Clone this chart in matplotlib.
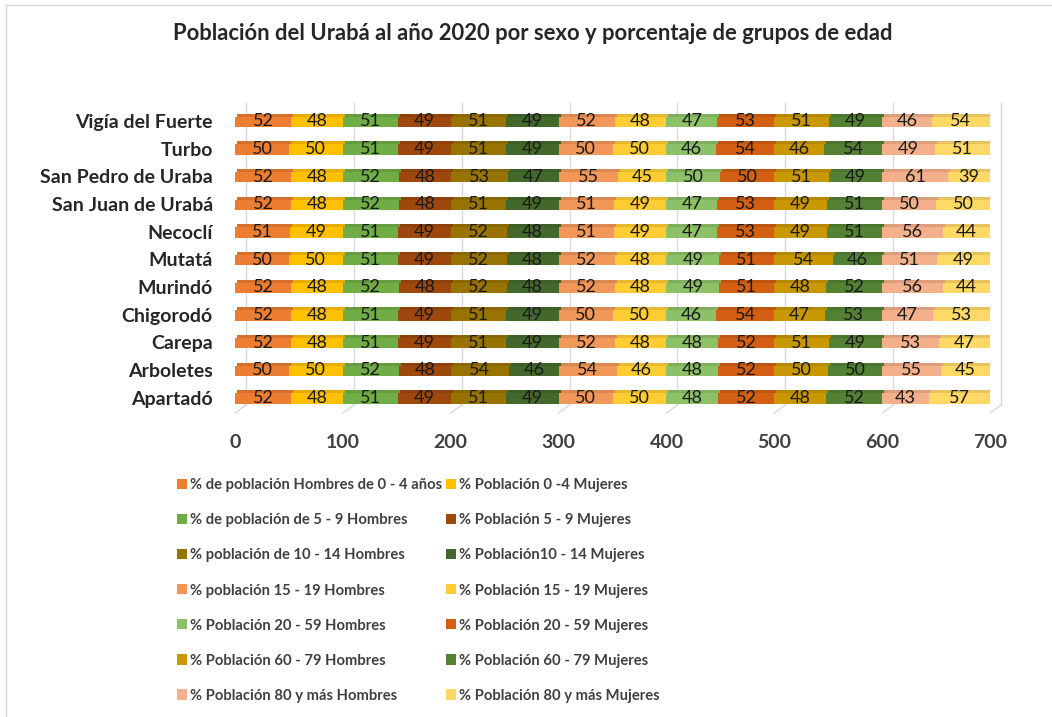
import matplotlib
matplotlib.use("Agg")
import matplotlib.pyplot as plt
import numpy as np
from matplotlib.patches import Patch, ConnectionPatch
from matplotlib.lines import Line2D
from matplotlib.transforms import offset_copy
from matplotlib.colors import to_rgb

plt.rcParams['font.family'] = ['Lato', 'DejaVu Sans']

# Municipalities, bottom row first
municipios = ["Apartadó", "Arboletes", "Carepa", "Chigorodó", "Murindó", "Mutatá",
              "Necoclí", "San Juan de Urabá", "San Pedro de Uraba", "Turbo",
              "Vigía del Fuerte"]

series_names = [
    "% de población Hombres de 0 - 4 años",
    "% Población 0 -4 Mujeres",
    "% de población de 5 - 9 Hombres",
    "% Población 5 - 9 Mujeres",
    "% población de 10 - 14 Hombres",
    "% Población10 - 14 Mujeres",
    "% población 15 - 19 Hombres",
    "% Población 15 - 19 Mujeres",
    "% Población 20 - 59 Hombres",
    "% Población 20 - 59 Mujeres",
    "% Población 60 - 79 Hombres",
    "% Población 60 - 79 Mujeres",
    "% Población 80 y más Hombres",
    "% Población 80 y más Mujeres",
]

# One list per series, values in the order of `municipios`
h_0_4   = [52, 50, 52, 52, 52, 50, 51, 52, 52, 50, 52]
m_0_4   = [48, 50, 48, 48, 48, 50, 49, 48, 48, 50, 48]
h_5_9   = [51, 52, 51, 51, 52, 51, 51, 52, 52, 51, 51]
m_5_9   = [49, 48, 49, 49, 48, 49, 49, 48, 48, 49, 49]
h_10_14 = [51, 54, 51, 51, 52, 52, 52, 51, 53, 51, 51]
m_10_14 = [49, 46, 49, 49, 48, 48, 48, 49, 47, 49, 49]
h_15_19 = [50, 54, 52, 50, 52, 52, 51, 51, 55, 50, 52]
m_15_19 = [50, 46, 48, 50, 48, 48, 49, 49, 45, 50, 48]
h_20_59 = [48, 48, 48, 46, 49, 49, 47, 47, 50, 46, 47]
m_20_59 = [52, 52, 52, 54, 51, 51, 53, 53, 50, 54, 53]
h_60_79 = [48, 50, 51, 47, 48, 54, 49, 49, 51, 46, 51]
m_60_79 = [52, 50, 49, 53, 52, 46, 51, 51, 49, 54, 49]
h_80    = [43, 55, 53, 47, 56, 51, 56, 50, 61, 49, 46]
m_80    = [57, 45, 47, 53, 44, 49, 44, 50, 39, 51, 54]

x_ticks = [0, 100, 200, 300, 400, 500, 600, 700]

series = [h_0_4, m_0_4, h_5_9, m_5_9, h_10_14, m_10_14, h_15_19, m_15_19,
          h_20_59, m_20_59, h_60_79, m_60_79, h_80, m_80]

colors = ['#ED7D31', '#FFC000', '#70AD47', '#9E480E', '#997300', '#43682B',
          '#F1975A', '#FFCD33', '#8CC168', '#D35F13', '#C99700', '#548235',
          '#F4B08A', '#FFD966']


def shade(c, f):
    r, g, b = to_rgb(c)
    return (r * f, g * f, b * f)


W, H = 1052, 717
fig = plt.figure(figsize=(W / 100, H / 100), dpi=100)
ax = fig.add_axes([235 / W, 1 - 413 / H, (990 - 235) / W, (413 - 103) / H])
ax.set_xlim(0, 700)
ax.set_ylim(-0.55, len(municipios) - 1 + 0.65)
ax.set_frame_on(False)

y = np.arange(len(municipios))
front_h = 0.37
front_c = y - 0.03
top_h = 0.11
top_c = front_c + front_h / 2 + top_h / 2

top_tr = offset_copy(ax.transData, fig=fig, x=2, y=0, units='dots')

cum = np.zeros(len(municipios))
for vals, col in zip(series, colors):
    vals = np.array(vals, dtype=float)
    ax.barh(front_c, vals, left=cum, height=front_h, color=col, zorder=3,
            linewidth=0)
    ax.barh(top_c, vals, left=cum, height=top_h, color=shade(col, 0.9),
            zorder=3, linewidth=0, transform=top_tr)
    for yi, (l, v) in enumerate(zip(cum, vals)):
        ax.text(l + v / 2, front_c[yi] + 0.02, f"{int(v)}", ha='center',
                va='center', fontsize=13, color='#1a1a1a', zorder=5)
    cum += vals

# right end face of each bar
ax.barh(front_c + top_h / 2, 2.6, left=cum, height=front_h + top_h * 0.6,
        color=shade(colors[-1], 0.72), zorder=3, linewidth=0)

# back wall gridlines with a short floor segment
dx, dy = 11, 8
xax = ax.get_xaxis_transform()
wall = offset_copy(xax, fig=fig, x=dx, y=0, units='dots')
floor = dy / (413 - 103)
for v in x_ticks:
    ax.plot([v, v], [floor, 1.0], transform=wall, color='#D9D9D9', lw=1.0,
            zorder=1, clip_on=False)
    cp = ConnectionPatch(xyA=(v, 0), coordsA=xax, xyB=(v, floor), coordsB=wall,
                         color='#D9D9D9', lw=1.0, zorder=1)
    cp.set_clip_on(False)
    ax.add_artist(cp)

ax.set_xticks(x_ticks)
ax.set_xticklabels([str(t) for t in x_ticks], fontsize=14, fontweight='bold',
                   color='#404040')
ax.set_yticks(y)
ax.set_yticklabels(municipios, fontsize=14, fontweight='bold', color='#262626')
ax.tick_params(axis='x', length=0, pad=15)
ax.tick_params(axis='y', length=0, pad=16)

fig.text(533 / W, 1 - 33 / H,
         "Población del Urabá al año 2020 por sexo y porcentaje de grupos de edad",
         ha='center', va='center', fontsize=15.8, fontweight='bold',
         color='#262626')

handles = [Patch(facecolor=c, edgecolor='none') for c in colors]
leg_kw = dict(frameon=False, loc='upper left', borderpad=0,
              handlelength=0.68, handleheight=0.68, handletextpad=0.2,
              labelspacing=1.43, labelcolor='#404040',
              prop={'weight': 'bold', 'size': 10.6})
col1 = fig.legend([handles[i] for i in range(0, 14, 2)],
                  [series_names[i] for i in range(0, 14, 2)],
                  bbox_to_anchor=(170 / W, 1 - 471 / H), **leg_kw)
col2 = fig.legend([handles[i] for i in range(1, 14, 2)],
                  [series_names[i] for i in range(1, 14, 2)],
                  bbox_to_anchor=(439 / W, 1 - 471 / H), **leg_kw)

# chart area border
fig.add_artist(Line2D([6 / W, 6 / W], [0, 1 - 5 / H], color='#D9D9D9', lw=1.0))
fig.add_artist(Line2D([6 / W, 1], [1 - 5 / H, 1 - 5 / H], color='#D9D9D9', lw=1.0))

fig.savefig("out.png", dpi=100, facecolor='white')
